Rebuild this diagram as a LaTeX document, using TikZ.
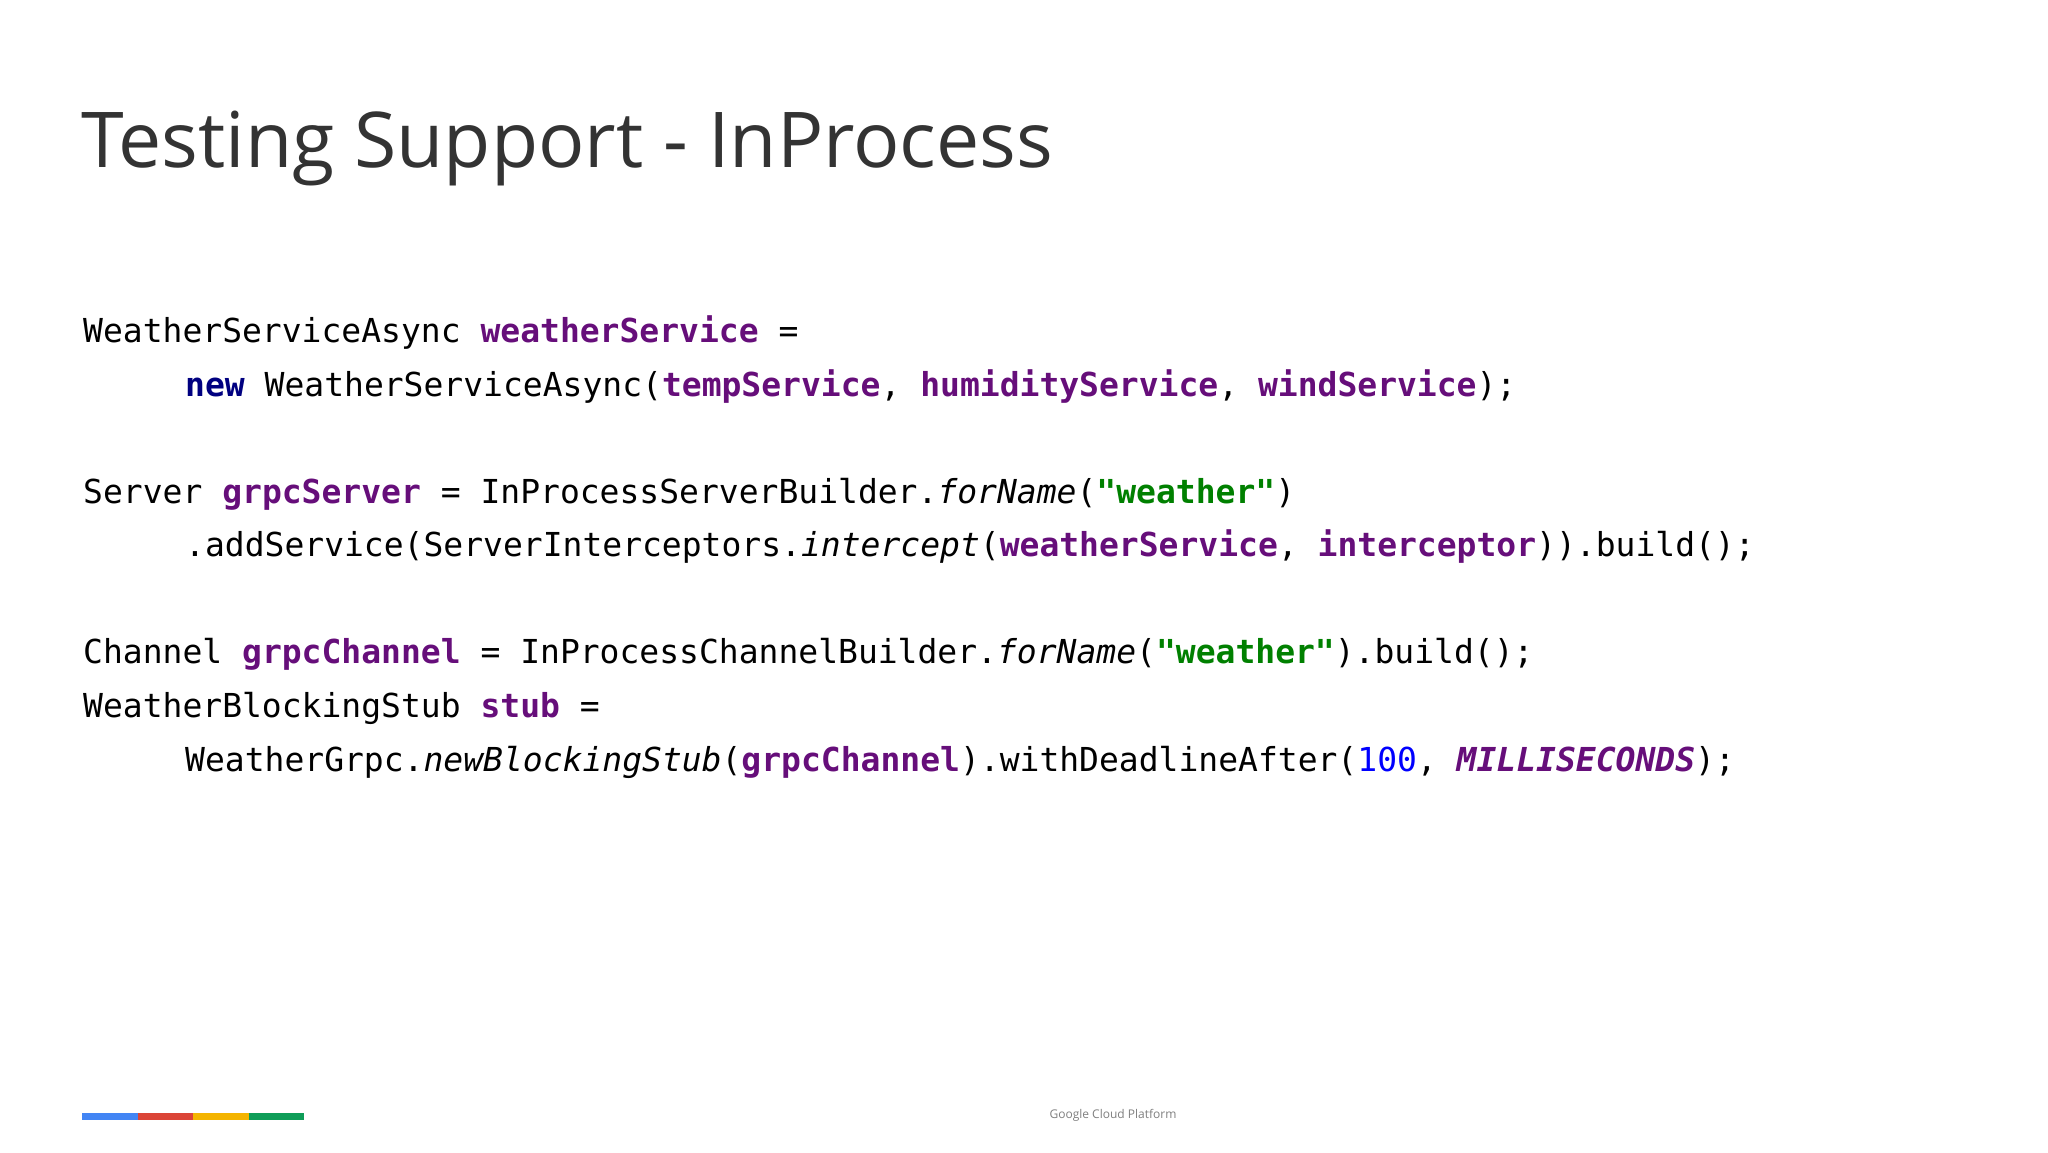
\documentclass[tikz,border=0pt]{standalone}
\usepackage{fontspec}
\setmainfont{Open Sans}
\setmonofont{DejaVu Sans Mono}
\definecolor{vp}{HTML}{660E7A}
\definecolor{kw}{HTML}{000080}
\definecolor{st}{HTML}{008000}
\definecolor{nm}{HTML}{0000FF}
\definecolor{tt}{HTML}{333333}
\definecolor{gb}{HTML}{4285F4}
\definecolor{gr}{HTML}{DB4437}
\definecolor{gy}{HTML}{F4B400}
\definecolor{gg}{HTML}{0F9D58}
\newcommand{\vv}[1]{\textcolor{vp}{\textbf{#1}}}
\newcommand{\sq}[1]{\textcolor{st}{\textbf{#1}}}
\tikzset{code/.style={anchor=base west,inner sep=0pt,font=\ttfamily\fontsize{33}{33}\selectfont,text=black}}
\begin{document}
\begin{tikzpicture}[x=1pt,y=-1pt]
\useasboundingbox[fill=white] (0,0) rectangle (2048,1152);
\node[anchor=base west,inner sep=0pt,text=tt,font=\fontsize{77}{77}\selectfont] (title) at (81,167) {Testing Support - InProcess};
\node[code] (l1) at (83,342) {WeatherServiceAsync \vv{weatherService} =};
\node[code] (l2) at (185,396) {\textcolor{kw}{\textbf{new}} WeatherServiceAsync(\vv{tempService}, \vv{humidityService}, \vv{windService});};
\node[code] (l3) at (83,503) {Server \vv{grpcServer} = InProcessServerBuilder.\textit{forName}(\sq{"weather"})};
\node[code] (l4) at (185,556) {.addService(ServerInterceptors.\textit{intercept}(\vv{weatherService}, \vv{interceptor})).build();};
\node[code] (l5) at (83,663) {Channel \vv{grpcChannel} = InProcessChannelBuilder.\textit{forName}(\sq{"weather"}).build();};
\node[code] (l6) at (83,717) {WeatherBlockingStub \vv{stub} =};
\node[code] (l7) at (185,771) {WeatherGrpc.\textit{newBlockingStub}(\vv{grpcChannel}).withDeadlineAfter(\textcolor{nm}{100}, \textcolor{vp}{\textbf{\textit{MILLISECONDS}}});};
\fill[gb] (82,1113) rectangle (138,1120);
\fill[gr] (138,1113) rectangle (193,1120);
\fill[gy] (193,1113) rectangle (249,1120);
\fill[gg] (249,1113) rectangle (304,1120);
\node[inner sep=0pt,text=gray,font=\fontsize{12}{12}\selectfont] (foot) at (1113,1115) {Google Cloud Platform};
\end{tikzpicture}
\end{document}
